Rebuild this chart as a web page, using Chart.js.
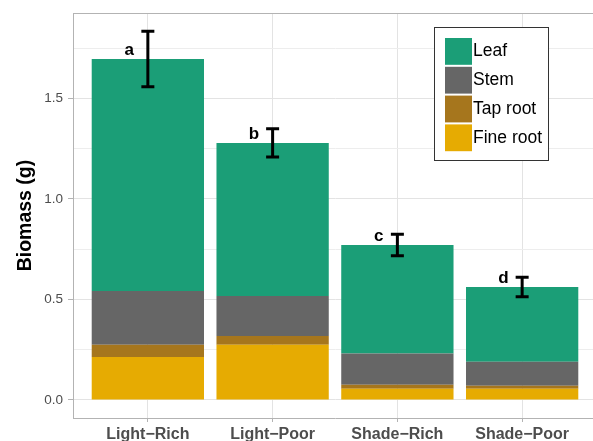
<!DOCTYPE html>
<html>
<head>
<meta charset="utf-8">
<script src="https://cdn.jsdelivr.net/npm/chart.js@4"></script>
<style>
  html, body { margin: 0; padding: 0; background: #ffffff; overflow: hidden; }
  canvas { display: block; }
</style>
</head>
<body>
<canvas id="chart" width="597" height="441"></canvas>
<script>
// Treatments along the x axis
const categories = ['Light−Rich', 'Light−Poor', 'Shade−Rich', 'Shade−Poor'];

// Mean biomass (g) of each plant part, stacked bottom to top
const fineRoot = [0.214, 0.274, 0.055, 0.055];
const tapRoot  = [0.060, 0.044, 0.020, 0.016];
const stem     = [0.268, 0.199, 0.156, 0.119];
const leaf     = [1.155, 0.762, 0.540, 0.372];

// Standard error of total biomass and significance groups
const totalSE      = [0.138, 0.070, 0.053, 0.048];
const groupLetters = ['a', 'b', 'c', 'd'];

// Y axis tick values (major every 0.5, minor between)
const yTicks = [0, 0.25, 0.5, 0.75, 1.0, 1.25, 1.5, 1.75];

const FONT = "'Liberation Sans', Arial, Helvetica, sans-serif";

const series = [
  { label: 'Fine root', values: fineRoot, color: '#e6ab02' },
  { label: 'Tap root',  values: tapRoot,  color: '#a6761d' },
  { label: 'Stem',      values: stem,     color: '#666666' },
  { label: 'Leaf',      values: leaf,     color: '#1b9e77' }
];

const totals = categories.map((_, i) => series.reduce((s, d) => s + d.values[i], 0));
const isMajor = v => Math.abs(v * 2 - Math.round(v * 2)) < 1e-6;

// Top edge of the panel border
const panelBorder = {
  id: 'panelBorder',
  beforeDatasetsDraw(chart) {
    const { ctx, chartArea } = chart;
    ctx.save();
    ctx.strokeStyle = '#b3b3b3';
    ctx.lineWidth = 1;
    ctx.beginPath();
    ctx.moveTo(chartArea.left, Math.round(chartArea.top) + 0.5);
    ctx.lineTo(chartArea.right, Math.round(chartArea.top) + 0.5);
    ctx.stroke();
    ctx.restore();
  }
};

// Error bars on total biomass plus group letters
const errorBars = {
  id: 'errorBars',
  afterDatasetsDraw(chart) {
    const { ctx } = chart;
    const xs = chart.scales.x, ys = chart.scales.y;
    ctx.save();
    ctx.strokeStyle = '#000000';
    ctx.lineWidth = 3;
    ctx.lineCap = 'butt';
    categories.forEach((_, i) => {
      const x = xs.getPixelForValue(i);
      const yTop = ys.getPixelForValue(totals[i] + totalSE[i]);
      const yBot = ys.getPixelForValue(totals[i] - totalSE[i]);
      const half = 6.5;
      ctx.beginPath();
      ctx.moveTo(x, yTop);
      ctx.lineTo(x, yBot);
      ctx.moveTo(x - half, yTop);
      ctx.lineTo(x + half, yTop);
      ctx.moveTo(x - half, yBot);
      ctx.lineTo(x + half, yBot);
      ctx.stroke();

      ctx.fillStyle = '#000000';
      ctx.font = 'bold 17px ' + FONT;
      ctx.textAlign = 'center';
      ctx.textBaseline = 'alphabetic';
      ctx.fillText(groupLetters[i], xs.getPixelForValue(i - 0.15), ys.getPixelForValue(totals[i] + 0.02));
    });
    ctx.restore();
  }
};

// Boxed legend inside the panel, Leaf listed first
const boxLegend = {
  id: 'boxLegend',
  afterDraw(chart) {
    const { ctx } = chart;
    const left = 434.5, top = 27.5, w = 114, h = 133;
    ctx.save();
    ctx.fillStyle = '#ffffff';
    ctx.fillRect(left, top, w, h);
    ctx.strokeStyle = '#333333';
    ctx.lineWidth = 1;
    ctx.strokeRect(left, top, w, h);
    const order = series.slice().reverse();
    ctx.font = '17.5px ' + FONT;
    ctx.textAlign = 'left';
    ctx.textBaseline = 'middle';
    order.forEach((s, k) => {
      const ky = 38 + k * 28.8;
      ctx.fillStyle = s.color;
      ctx.fillRect(445, ky, 27, 26.8);
      ctx.fillStyle = '#000000';
      ctx.fillText(s.label, 473, ky + 13.6);
    });
    ctx.restore();
  }
};

new Chart(document.getElementById('chart'), {
  type: 'bar',
  data: {
    datasets: series.map(s => ({
      label: s.label,
      data: s.values.map((v, i) => ({ x: i, y: v })),
      backgroundColor: s.color,
      borderWidth: 0,
      barPercentage: 0.9,
      categoryPercentage: 1.0
    }))
  },
  options: {
    responsive: false,
    animation: false,
    devicePixelRatio: 1,
    layout: { padding: { top: 13, right: 0, bottom: 0, left: 0 } },
    plugins: { legend: { display: false }, tooltip: { enabled: false } },
    scales: {
      x: {
        type: 'linear',
        stacked: true,
        offset: false,
        min: -0.6,
        max: 3.6,
        afterBuildTicks: s => { s.ticks = categories.map((_, i) => ({ value: i })); },
        afterFit: s => { s.height = 23; },
        grid: { offset: false, color: '#e3e3e3', lineWidth: 1, tickLength: 4, tickColor: '#b3b3b3' },
        border: { color: '#b3b3b3', width: 1 },
        ticks: {
          callback: v => categories[v],
          font: { family: FONT, size: 16, weight: 'bold' },
          color: '#4d4d4d',
          padding: 3,
          maxRotation: 0,
          autoSkip: false
        }
      },
      y: {
        stacked: true,
        min: -0.09,
        max: 1.925,
        afterBuildTicks: s => { s.ticks = yTicks.map(v => ({ value: v })); },
        afterFit: s => { s.width = 73; },
        grid: {
          color: ctx => (ctx.tick && !isMajor(ctx.tick.value)) ? '#ededed' : '#e3e3e3',
          lineWidth: 1,
          tickLength: 5,
          tickColor: ctx => (ctx.tick && isMajor(ctx.tick.value)) ? '#b3b3b3' : 'rgba(0,0,0,0)'
        },
        border: { color: '#b3b3b3', width: 1 },
        ticks: {
          callback: v => isMajor(v) ? v.toFixed(1) : '',
          font: { family: FONT, size: 13.5 },
          color: '#4d4d4d',
          padding: 5
        },
        title: {
          display: true,
          text: 'Biomass (g)',
          font: { family: FONT, size: 19.5, weight: 'bold' },
          color: '#000000',
          padding: { top: 14, bottom: 0 }
        }
      }
    }
  },
  plugins: [panelBorder, errorBars, boxLegend]
});
</script>
</body>
</html>
